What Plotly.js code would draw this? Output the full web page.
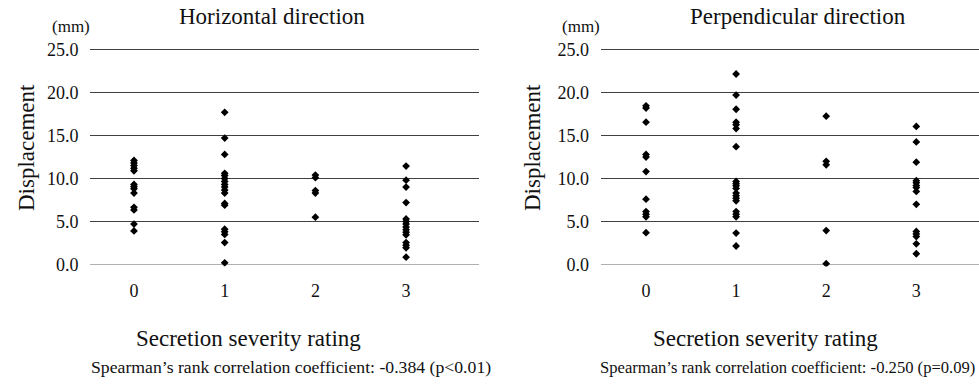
<!DOCTYPE html>
<html>
<head>
<meta charset="utf-8">
<script src="https://cdn.plot.ly/plotly-3.0.1.min.js"></script>
<style>html,body{margin:0;padding:0;background:#fff;}#chart{width:979px;height:388px;}</style>
</head>
<body>
<div id="chart"></div>
<script>
// ---- Data ----
const categories = [0, 1, 2, 3];
const categoryLabels = ["0", "1", "2", "3"];
const yTicks = [0, 5, 10, 15, 20, 25];

// Horizontal direction displacement (mm) by secretion severity rating
const horizRating0 = [12.1, 11.8, 11.5, 11.2, 10.9, 9.3, 9.05, 8.8, 8.3, 6.65, 6.35, 4.7, 3.9];
const horizRating1 = [17.7, 14.7, 12.8, 10.6, 10.35, 10.0, 9.65, 9.3, 9.0, 8.65, 8.3, 7.1, 6.9, 4.1, 3.8, 3.5, 2.55, 0.2];
const horizRating2 = [10.4, 10.1, 8.6, 8.3, 5.5];
const horizRating3 = [11.45, 9.8, 9.0, 7.2, 5.3, 5.0, 4.7, 4.35, 4.05, 3.75, 3.45, 2.55, 2.25, 1.95, 0.85];

// Perpendicular direction displacement (mm) by secretion severity rating
const perpRating0 = [18.45, 18.2, 16.55, 12.8, 12.5, 10.8, 7.6, 6.15, 5.85, 5.55, 3.7];
const perpRating1 = [22.15, 19.7, 18.05, 16.55, 16.25, 15.8, 13.7, 9.65, 9.4, 9.15, 8.85, 8.3, 8.0, 7.7, 7.4, 6.15, 5.85, 5.55, 3.65, 2.15];
const perpRating2 = [17.25, 12.0, 11.6, 3.95, 0.1];
const perpRating3 = [16.05, 14.25, 11.9, 9.75, 9.5, 9.2, 8.95, 8.5, 7.0, 3.85, 3.55, 3.25, 2.4, 1.25];

const horizGroups = [horizRating0, horizRating1, horizRating2, horizRating3];
const perpGroups = [perpRating0, perpRating1, perpRating2, perpRating3];

// ---- Build traces ----
function flatten(groups) {
  const xs = [], ys = [];
  groups.forEach((vals, i) => vals.forEach(v => { xs.push(categories[i]); ys.push(v); }));
  return {xs, ys};
}
const h = flatten(horizGroups), p = flatten(perpGroups);
const marker = {symbol: 'diamond', size: 6, color: '#000'};
const traces = [
  {type: 'scatter', mode: 'markers', x: h.xs, y: h.ys, xaxis: 'x', yaxis: 'y', marker: marker, hoverinfo: 'x+y'},
  {type: 'scatter', mode: 'markers', x: p.xs, y: p.ys, xaxis: 'x2', yaxis: 'y2', marker: marker, hoverinfo: 'x+y'}
];

// ---- Layout (pixel helpers) ----
const W = 979, H = 388;
const px = v => v / W;
const py = v => 1 - v / H;
const FONT = 'Liberation Serif';
const pad = 2 / 8.6; // 2px of headroom so edge gridlines are not clipped

const yAxisBase = {
  range: [-pad, 25 + pad], tickvals: yTicks, tickformat: '.1f',
  showgrid: true, gridcolor: '#404040', gridwidth: 1,
  zeroline: true, zerolinecolor: '#b0b0b0', zerolinewidth: 1,
  showline: false,
  ticks: 'outside', ticklen: 7, tickcolor: 'rgba(0,0,0,0)',
  tickfont: {family: FONT, size: 18, color: '#111'},
  domain: [py(266.5), py(47.5)], fixedrange: true
};
const xAxisBase = {
  tickvals: categories, ticktext: categoryLabels,
  showgrid: false, zeroline: false, showline: false,
  ticks: 'outside', ticklen: 8, tickcolor: 'rgba(0,0,0,0)',
  tickfont: {family: FONT, size: 18, color: '#111'}, fixedrange: true
};

const ann = (text, x, y, size, extra) => Object.assign({
  text: text, xref: 'paper', yref: 'paper', x: px(x), y: py(y),
  showarrow: false, font: {family: FONT, size: size, color: '#111'},
  xanchor: 'center', yanchor: 'middle'
}, extra || {});

const layout = {
  width: W, height: H,
  font: {family: FONT, size: 18, color: '#111'},
  margin: {l: 0, r: 0, t: 0, b: 0, pad: 0},
  paper_bgcolor: '#fff', plot_bgcolor: '#fff',
  showlegend: false,
  xaxis: Object.assign({}, xAxisBase, {domain: [px(90), px(479)], range: [-0.485, 3.804], anchor: 'y'}),
  yaxis: Object.assign({}, yAxisBase, {anchor: 'x'}),
  xaxis2: Object.assign({}, xAxisBase, {domain: [px(600.7), px(979)], range: [-0.503, 3.696], anchor: 'y2'}),
  yaxis2: Object.assign({}, yAxisBase, {anchor: 'x2'}),
  annotations: [
    ann('Horizontal direction', 272, 17, 23),
    ann('Perpendicular direction', 798, 17, 23),
    ann('(mm)', 71, 27, 17),
    ann('(mm)', 581, 27, 17),
    ann('Displacement', 26, 148, 23, {textangle: -90}),
    ann('Displacement', 532, 148, 23, {textangle: -90}),
    ann('Secretion severity rating', 248, 338, 23),
    ann('Secretion severity rating', 765, 338, 23),
    ann('Spearman\u2019s rank correlation coefficient: -0.384 (p<0.01)', 89, 367, 17.7, {xanchor: 'left'}),
    ann('Spearman\u2019s rank correlation coefficient: -0.250 (p=0.09)', 598, 367, 16.6, {xanchor: 'left'})
  ]
};

Plotly.newPlot('chart', traces, layout, {displayModeBar: false, staticPlot: true});
</script>
</body>
</html>
